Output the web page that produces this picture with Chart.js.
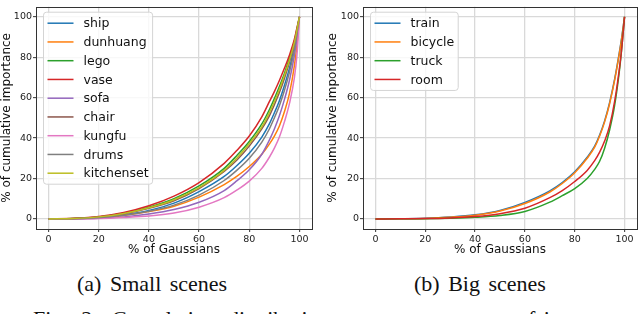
<!DOCTYPE html>
<html>
<head>
<meta charset="utf-8">
<script src="https://cdn.jsdelivr.net/npm/chart.js@4.4.1/dist/chart.umd.min.js"></script>
<style>
  body { margin: 0; background: #fff; width: 640px; height: 314px; overflow: hidden; position: relative; }
  canvas { position: absolute; top: 0; }
  #smallChart { left: 0; }
  #bigChart { left: 320px; }
  .caption { position: absolute; font-family: "Liberation Serif", "Times New Roman", serif; font-size: 22px;
             line-height: 22px; color: #111; white-space: nowrap; word-spacing: 3px; }
</style>
</head>
<body>
<canvas id="smallChart" width="320" height="260"></canvas>
<canvas id="bigChart" width="320" height="260"></canvas>
<div class="caption" style="left:77px; top:273px;">(a) Small scenes</div>
<div class="caption" style="left:414px; top:273px;">(b) Big scenes</div>
<div class="caption" style="left:33px; top:308px; word-spacing:8px;">Fig. 2: Cumulative distribution curve</div>
<div class="caption" style="left:517px; top:308px;">of importance</div>
<script>
// % of Gaussians (x positions where the curves were read)
const gaussiansPct = [0, 10, 20, 30, 40, 50, 60, 70, 75, 80, 85, 88, 90, 92, 94, 96, 98, 99, 100];
const axisTicks = [0, 20, 40, 60, 80, 100];

// Small scenes (% of cumulative importance)
const ship       = [0, 0.1, 0.7, 2.0, 4.2, 7.8, 13.5, 21.0, 26.3, 32.5, 40.5, 47.0, 52.5, 58.5, 66.0, 74.5, 85.0, 92.0, 100];
const dunhuang   = [0, 0.1, 0.6, 1.7, 3.6, 6.3, 10.8, 17.0, 21.0, 25.9, 32.0, 37.0, 41.0, 46.0, 53.0, 62.0, 76.0, 86.0, 100];
const lego       = [0, 0.2, 1.0, 2.8, 5.8, 10.0, 16.3, 25.0, 31.3, 38.3, 47.0, 54.0, 59.5, 65.5, 72.0, 79.5, 88.0, 94.0, 100];
const vase       = [0, 0.3, 1.2, 3.2, 6.5, 11.3, 18.0, 27.5, 33.8, 41.0, 50.5, 58.0, 63.0, 68.5, 74.5, 81.0, 89.0, 94.5, 100];
const sofa       = [0, 0.05, 0.3, 1.0, 2.4, 4.6, 8.2, 14.0, 18.8, 24.3, 32.0, 39.0, 44.5, 51.0, 59.0, 68.5, 81.0, 89.5, 100];
const chair      = [0, 0.2, 0.9, 2.5, 5.2, 9.0, 15.0, 23.5, 29.0, 36.0, 44.5, 51.0, 56.5, 62.5, 69.5, 77.5, 87.0, 93.0, 100];
const kungfu     = [0, 0.05, 0.2, 0.7, 1.4, 2.9, 5.8, 10.5, 14.2, 18.7, 25.0, 30.5, 35.0, 40.5, 48.0, 57.0, 70.0, 81.0, 100];
const drums      = [0, 0.1, 0.6, 1.8, 3.8, 6.8, 11.8, 19.0, 24.0, 30.0, 38.0, 44.5, 50.0, 56.0, 63.5, 72.5, 84.0, 91.5, 100];
const kitchenset = [0, 0.2, 1.0, 2.7, 5.5, 9.5, 15.5, 24.0, 30.0, 37.2, 45.5, 52.5, 58.0, 64.0, 71.0, 78.5, 87.5, 93.5, 100];

// Big scenes (% of cumulative importance)
const train   = [0, 0.05, 0.3, 0.9, 2.0, 4.2, 8.2, 13.9, 18.0, 23.3, 30.5, 36.0, 41.5, 48.5, 57.5, 69.0, 83.0, 91.0, 100];
const bicycle = [0, 0.05, 0.25, 0.8, 1.8, 3.9, 7.6, 13.3, 17.5, 22.8, 30.0, 35.5, 41.0, 48.0, 57.0, 68.5, 82.5, 90.5, 100];
const truck   = [0, 0.02, 0.1, 0.35, 0.8, 1.7, 3.7, 8.3, 11.5, 15.0, 20.0, 24.5, 28.5, 35.0, 44.0, 56.0, 74.0, 86.0, 100];
const room    = [0, 0.03, 0.15, 0.5, 1.2, 2.6, 5.3, 10.5, 14.0, 18.5, 24.0, 28.8, 33.0, 38.5, 46.0, 58.0, 75.0, 86.0, 100];

// Cores padrão do matplotlib (tab10)
const tab10 = ['#1f77b4', '#ff7f0e', '#2ca02c', '#d62728', '#9467bd', '#8c564b', '#e377c2', '#7f7f7f', '#bcbd22'];

function toPoints(values) {
    return gaussiansPct.map((x, i) => ({ x: x, y: values[i] }));
}

function makeDatasets(labels, series) {
    return series.map((values, i) => ({
        label: labels[i],
        data: toPoints(values),
        borderColor: tab10[i],
        backgroundColor: tab10[i],
        borderWidth: 1.5,
        pointRadius: 0,
        fill: false,
        cubicInterpolationMode: 'monotone',
        order: series.length - i   // last series drawn on top, like matplotlib
    }));
}

// Legenda dentro da área do gráfico (estilo matplotlib)
const insideLegend = {
    id: 'insideLegend',
    afterDraw(chart) {
        const ctx = chart.ctx;
        const area = chart.chartArea;
        const sets = chart.data.datasets;
        ctx.save();
        ctx.font = '12.5px "DejaVu Sans"';
        const maxW = Math.max(...sets.map(d => ctx.measureText(d.label).width));
        const rowH = 18.75;
        const x0 = area.left + 7.5, y0 = area.top + 5.5;
        const w = 40 + maxW + 4, h = 22 + (sets.length - 1) * rowH;
        ctx.beginPath();
        ctx.roundRect(x0, y0, w, h, 3);
        ctx.fillStyle = 'rgba(255,255,255,0.8)';
        ctx.fill();
        ctx.strokeStyle = '#d4d4d4';
        ctx.lineWidth = 1;
        ctx.stroke();
        sets.forEach((d, i) => {
            const y = y0 + 11 + i * rowH;
            ctx.strokeStyle = d.borderColor;
            ctx.lineWidth = 1.5;
            ctx.beginPath();
            ctx.moveTo(x0 + 4, y);
            ctx.lineTo(x0 + 30, y);
            ctx.stroke();
            ctx.fillStyle = '#111';
            ctx.textBaseline = 'middle';
            ctx.fillText(d.label, x0 + 40, y + 1);
        });
        ctx.restore();
    }
};

// Moldura em volta da área do gráfico
const axesFrame = {
    id: 'axesFrame',
    afterDraw(chart) {
        const a = chart.chartArea;
        const ctx = chart.ctx;
        ctx.save();
        ctx.strokeStyle = '#333';
        ctx.lineWidth = 1;
        ctx.strokeRect(Math.round(a.left) + 0.5, Math.round(a.top) + 0.5,
                       Math.round(a.right - a.left), Math.round(a.bottom - a.top));
        ctx.restore();
    }
};

function makeOptions(yWidth, rightPad, yTitlePad) {
    const tickFont = { family: 'DejaVu Sans', size: 9.5 };
    const titleFont = { family: 'DejaVu Sans', size: 12 };
    const grid = { color: '#d9d9d9', lineWidth: 1.3, tickLength: 3, tickColor: '#333', tickWidth: 1 };
    return {
        responsive: false,
        animation: false,
        devicePixelRatio: 1,
        layout: { padding: { top: 2, right: rightPad, left: 0, bottom: 0 } },
        plugins: { legend: { display: false }, tooltip: { enabled: false } },
        scales: {
            x: {
                type: 'linear', min: -5, max: 105,
                afterBuildTicks: s => { s.ticks = axisTicks.map(v => ({ value: v })); },
                afterFit: s => { s.height = 31; },
                grid: grid,
                border: { display: false },
                ticks: { font: tickFont, color: '#222', padding: 2, maxRotation: 0, autoSkip: false },
                title: { display: true, text: '% of Gaussians', font: titleFont, color: '#111', padding: { top: 0, bottom: 3 } }
            },
            y: {
                type: 'linear', min: -5, max: 105,
                afterBuildTicks: s => { s.ticks = axisTicks.map(v => ({ value: v })); },
                afterFit: s => { s.width = yWidth; },
                grid: grid,
                border: { display: false },
                ticks: { font: tickFont, color: '#222', padding: 1, autoSkip: false },
                title: { display: true, text: '% of cumulative importance', font: titleFont, color: '#111', padding: { top: yTitlePad, bottom: 0 } }
            }
        }
    };
}

new Chart(document.getElementById('smallChart').getContext('2d'), {
    type: 'line',
    data: {
        datasets: makeDatasets(
            ['ship', 'dunhuang', 'lego', 'vase', 'sofa', 'chair', 'kungfu', 'drums', 'kitchenset'],
            [ship, dunhuang, lego, vase, sofa, chair, kungfu, drums, kitchenset])
    },
    options: makeOptions(36, 8, 0),
    plugins: [axesFrame, insideLegend]
});

new Chart(document.getElementById('bigChart').getContext('2d'), {
    type: 'line',
    data: {
        datasets: makeDatasets(['train', 'bicycle', 'truck', 'room'], [train, bicycle, truck, room])
    },
    options: makeOptions(43, 3, 6),
    plugins: [axesFrame, insideLegend]
});
</script>
</body>
</html>
